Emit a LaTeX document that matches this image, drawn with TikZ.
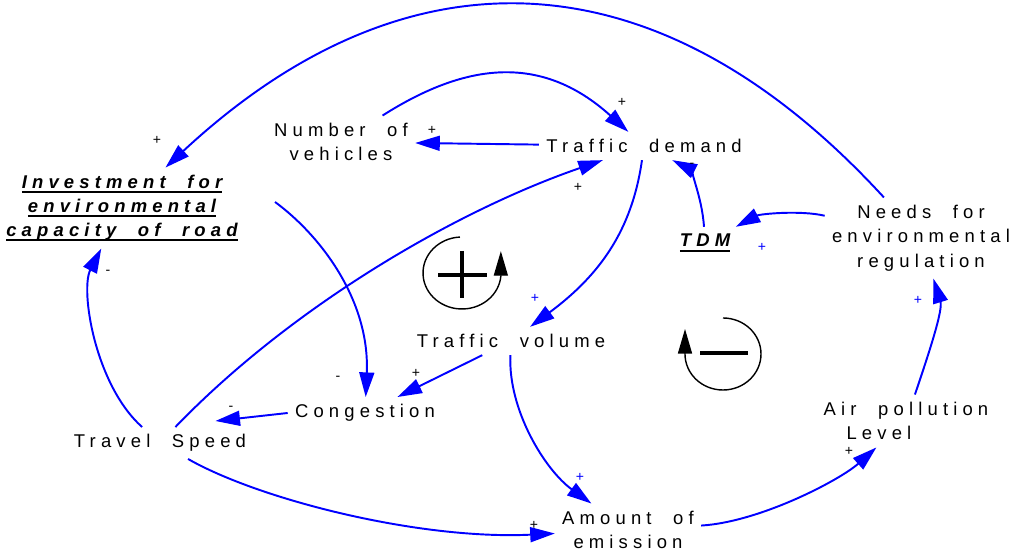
\documentclass[tikz,border=0pt]{standalone}
\usepackage{fontspec}
\usetikzlibrary{arrows.meta}
\newfontfamily\spaced{Liberation Sans}[LetterSpace=28,WordSpace=2.1]
\newcommand{\ulline}[1]{\setbox0\hbox{#1}\rlap{\rule[-2.8pt]{\wd0}{1pt}}\box0}
\definecolor{linkblue}{RGB}{0,0,255}

\begin{document}
\begin{tikzpicture}[x=0.2mm,y=-0.2mm,
  var/.style={font=\spaced\fontsize{10.5}{14}\selectfont,align=center,inner sep=4pt},
  lever/.style={var,font=\spaced\fontsize{10.5}{13.6}\selectfont\bfseries\itshape},
  link/.style={draw=linkblue,line width=1.1pt,-{Triangle[length=14pt,width=8.5pt]}},
  sign/.style={font=\spaced\fontsize{8}{9}\selectfont,inner sep=0pt},
  loopsym/.style={line width=0.8pt,-{Triangle[length=14pt,width=8pt]}}]
\useasboundingbox (0,0) rectangle (1011,554);
% variables
\node[var](num) at (341,142){Number of\\vehicles};
\node[var](dem) at (644,146){Traffic demand};
\node[lever](inv) at (122,208){\ulline{Investment for}\\\ulline{environmental}\\\ulline{capacity of road}};
\node[lever](tdm) at (705,243){\ulline{TDM}};
\node[var](needs) at (921,238){Needs for\\environmental\\regulation};
\node[var](vol) at (511,341){Traffic volume};
\node[var](cong) at (365,413){Congestion};
\node[var](speed) at (160,443){Travel Speed};
\node[var](amt) at (628,530){Amount of\\emission};
\node[var,align=left](air) at (906,421){Air pollution\\\hspace*{13pt}Level};
% loop symbols
\draw[loopsym] (462,273) ++(-93:39 and 36) arc[start angle=-93,end angle=-355,x radius=39,y radius=36] -- ++(0,-25);
\draw[line width=1.8pt] (438,275) -- (487,275) (462,251) -- (462,298);
\draw[loopsym] (723,354) ++(-90:38 and 36) arc[start angle=-90,end angle=180,x radius=38,y radius=36] -- ++(0,-25);
\draw[line width=1.8pt] (700,353) -- (748,353);
% links
\draw[link] (needs) .. controls (657,-50) and (406,-56) .. (inv);
\draw[link] (num) .. controls (462,65) and (539,51) .. (dem);
\draw[link] (dem) -- (num);
\draw[link] (speed) .. controls (293,305) and (458,210) .. (dem);
\draw[link] (dem) .. controls (632,230) and (600,275) .. (vol);
\draw[link] (tdm) .. controls (702,195) and (688,168) .. (dem);
\draw[link] (needs) .. controls (800,210) and (760,214) .. (tdm);
\draw[link] (air) .. controls (930,350) and (943,310) .. (needs);
\draw[link] (amt) .. controls (760,522) and (840,480) .. (air);
\draw[link] (vol) .. controls (508,410) and (545,470) .. (amt);
\draw[link] (speed) .. controls (260,500) and (420,540) .. (amt);
\draw[link] (vol) -- (cong);
\draw[link] ([shift={(30,-6)}]inv.east) .. controls (320,235) and (370,300) .. (cong);
\draw[link] (cong.west) -- ([shift={(-38,-6)}]speed.north east);
\draw[link] (speed) .. controls (95,385) and (80,290) .. (inv);
% polarities
\node[sign](s1) at (157,140){+};
\node[sign](s2) at (622,102){+};
\node[sign](s3) at (432,130){+};
\node[sign](s4) at (578,187){+};
\node[sign,text=linkblue](s5) at (535,298){+};
\node[sign](s6) at (692,165){-};
\node[sign,text=linkblue](s7) at (762,247){+};
\node[sign,text=linkblue](s8) at (918,300){+};
\node[sign](s9) at (849,451){+};
\node[sign,text=linkblue](s10) at (580,477){+};
\node[sign](s11) at (534,525){+};
\node[sign](s12) at (416,373){+};
\node[sign](s13) at (338,378){-};
\node[sign](s14) at (231,408){-};
\node[sign](s15) at (108,272){-};
\end{tikzpicture}
\end{document}
